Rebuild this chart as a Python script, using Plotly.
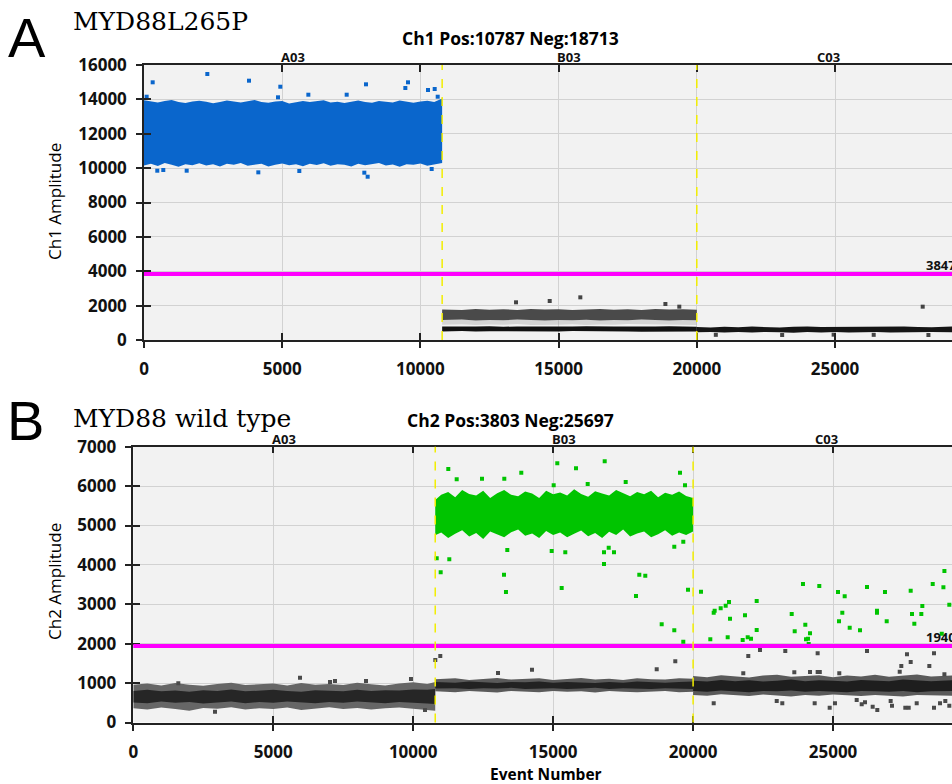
import plotly.graph_objects as go

W, H = 952, 784

# ---------------- data ----------------
WELLS = ["A03", "B03", "C03"]
WELL_EDGES = [0, 10787, 20000, 29500]
X_TICKS = [0, 5000, 10000, 15000, 20000, 25000]
A_Y_TICKS = [0, 2000, 4000, 6000, 8000, 10000, 12000, 14000, 16000]
B_Y_TICKS = [0, 1000, 2000, 3000, 4000, 5000, 6000, 7000]
A_X_RANGE = [0, 29233]
B_X_RANGE = [0, 29250]
A_Y_RANGE = [0, 16000]
B_Y_RANGE = [0, 7000]
A_THRESHOLD = 3847
B_THRESHOLD = 1940
A_TITLE = "Ch1 Pos:10787 Neg:18713"
B_TITLE = "Ch2 Pos:3803 Neg:25697"
A_LABEL = "MYD88L265P"
B_LABEL = "MYD88 wild type"

# Panel A dense clusters (band edges)
a_a03_x = [0, 250, 500, 750, 1000, 1250, 1500, 1750, 2000, 2250, 2500, 2750, 3000, 3250, 3500,
           3750, 4000, 4250, 4500, 4750, 5000, 5250, 5500, 5750, 6000, 6250, 6500, 6750, 7000,
           7250, 7500, 7750, 8000, 8250, 8500, 8750, 9000, 9250, 9500, 9750, 10000, 10250, 10500, 10787]
a_a03_hi = [13950, 13880, 13820, 13900, 13960, 13850, 13790, 13880, 13920, 13860, 13780, 13850,
            13930, 13870, 13820, 13890, 13960, 13840, 13800, 13870, 13910, 13760, 13850, 13900,
            13840, 13880, 13950, 13820, 13860, 13790, 13880, 13930, 13850, 13810, 13900, 13870,
            13820, 13940, 13860, 13800, 13880, 13920, 13850, 14050]
a_a03_lo = [10150, 10250, 10120, 10300, 10200, 10080, 10230, 10170, 10280, 10150, 10220, 10100,
            10260, 10190, 10300, 10140, 10210, 10250, 10090, 10200, 10270, 10160, 10230, 10110,
            10250, 10180, 10290, 10140, 10220, 10200, 10100, 10260, 10170, 10240, 10300, 10150,
            10210, 10080, 10230, 10190, 10270, 10140, 10220, 10300]

a_b03_x = [10787, 11500, 12000, 12500, 13000, 13500, 14000, 14500, 15000, 15500, 16000, 16500,
           17000, 17500, 18000, 18500, 19000, 19500, 20000]
a_b03_gray_hi = [1780, 1740, 1800, 1760, 1790, 1750, 1810, 1770, 1790, 1740, 1780, 1800,
                 1760, 1790, 1750, 1800, 1770, 1790, 1760]
a_b03_gray_lo = [1160, 1190, 1140, 1170, 1150, 1190, 1160, 1130, 1170, 1150, 1180, 1140,
                 1170, 1150, 1190, 1160, 1140, 1170, 1150]
a_b03_faint_hi = [1160, 1190, 1140, 1170, 1150, 1190, 1160, 1130, 1170, 1150, 1180, 1140,
                  1170, 1150, 1190, 1160, 1140, 1170, 1150]
a_b03_faint_lo = [880, 920, 870, 900, 880, 930, 870, 900, 890, 920, 870, 900,
                  880, 930, 890, 870, 900, 880, 870]
a_b03_dark_hi = [790, 770, 780, 800, 770, 790, 780, 760, 790, 780, 800, 770,
                 780, 790, 770, 780, 800, 780, 770]
a_b03_dark_lo = [500, 520, 490, 510, 500, 480, 510, 500, 490, 520, 500, 490,
                 510, 500, 480, 510, 500, 490, 500]

a_c03_x = [20000, 20500, 21000, 21500, 22000, 22500, 23000, 23500, 24000, 24500, 25000, 25500,
           26000, 26500, 27000, 27500, 28000, 28500, 29233]
a_c03_hi = [760, 730, 770, 740, 780, 750, 730, 770, 790, 750, 760, 740,
            780, 750, 770, 790, 760, 740, 780]
a_c03_lo = [450, 470, 430, 460, 440, 470, 450, 420, 460, 440, 470, 430,
            450, 460, 430, 450, 440, 460, 450]

# Panel A individual droplets
a_pos_x = [96, 314, 2291, 3799, 4932, 4848, 5946, 7333, 8032, 9455, 9551, 10275, 10517, 10626,
           481, 698, 1544, 4136, 5619, 7971, 8092, 10408]
a_pos_y = [14155, 14993, 15476, 15087, 14737, 14120, 14272, 14272, 14876, 14661, 14993, 14545, 14603, 14155,
           9850, 9890, 9850, 9755, 9832, 9735, 9500, 9949]
a_neg_x = [13460, 14678, 15786, 18864, 19367, 28173, 20688, 23088, 24950, 26400, 28380]
a_neg_y = [2193, 2269, 2482, 2094, 1939, 1939, 300, 290, 310, 300, 290]

# Panel B dense clusters
b_a03_x = [0, 500, 1000, 1500, 2000, 2500, 3000, 3500, 4000, 4500, 5000, 5500, 6000, 6500,
           7000, 7500, 8000, 8500, 9000, 9500, 10000, 10500, 10787]
b_a03_hi = [960, 990, 940, 1000, 960, 930, 980, 1010, 950, 970, 990, 940, 1000, 960, 980,
            950, 1010, 970, 940, 990, 1020, 980, 1030]
b_a03_lo = [360, 330, 380, 340, 300, 370, 350, 390, 330, 360, 340, 380, 320, 360, 390,
            340, 370, 330, 360, 380, 340, 320, 300]
b_a03_core_hi = [800, 830, 790, 810, 780, 820, 800, 840, 790, 810, 830, 800, 780, 820, 810,
                 790, 830, 800, 820, 810, 840, 830, 850]
b_a03_core_lo = [510, 490, 530, 500, 520, 480, 510, 530, 490, 520, 500, 530, 510, 490, 520,
                 500, 530, 510, 490, 520, 500, 480, 470]

b_b03_x = [10787, 11500, 12000, 12500, 13000, 13500, 14000, 14500, 15000, 15500, 16000, 16500,
           17000, 17500, 18000, 18500, 19000, 19500, 20000]
b_b03_hi = [1100, 1120, 1080, 1110, 1130, 1090, 1110, 1120, 1080, 1100, 1130, 1090,
            1110, 1080, 1120, 1100, 1090, 1120, 1110]
b_b03_lo = [790, 770, 800, 780, 760, 800, 790, 770, 800, 780, 790, 760,
            800, 780, 770, 790, 800, 770, 780]
b_b03_core_hi = [1030, 1010, 1040, 1020, 1000, 1030, 1020, 1040, 1010, 1030, 1020, 1000,
                 1030, 1010, 1040, 1020, 1010, 1030, 1040]
b_b03_core_lo = [860, 870, 850, 870, 860, 880, 850, 860, 870, 850, 860, 880,
                 850, 870, 860, 850, 870, 860, 850]
b_b03_pos_x = [10787, 11000, 11250, 11500, 11750, 12000, 12250, 12500, 12750, 13000, 13250, 13500,
               13750, 14000, 14250, 14500, 14750, 15000, 15250, 15500, 15750, 16000, 16250, 16500,
               16750, 17000, 17250, 17500, 17750, 18000, 18250, 18500, 18750, 19000, 19250, 19500,
               19750, 20000]
b_b03_pos_hi = [5650, 5780, 5850, 5720, 5900, 5800, 5760, 5880, 5700, 5820, 5900, 5780, 5740,
                5860, 5810, 5700, 5880, 5790, 5840, 5760, 5920, 5800, 5730, 5870, 5810, 5760,
                5900, 5820, 5740, 5850, 5790, 5880, 5720, 5830, 5780, 5860, 5750, 5700]
b_b03_pos_lo = [4750, 4820, 4680, 4790, 4880, 4720, 4810, 4660, 4850, 4770, 4700, 4830, 4900,
                4740, 4800, 4680, 4860, 4760, 4820, 4700, 4790, 4870, 4730, 4810, 4680, 4840,
                4760, 4900, 4720, 4800, 4850, 4700, 4780, 4880, 4740, 4820, 4760, 4850]

b_c03_x = [20000, 20500, 21000, 21500, 22000, 22500, 23000, 23500, 24000, 24500, 25000, 25500,
           26000, 26500, 27000, 27500, 28000, 28500, 29250]
b_c03_hi = [1180, 1150, 1200, 1170, 1140, 1190, 1210, 1160, 1180, 1200, 1150, 1190,
            1170, 1210, 1160, 1190, 1220, 1170, 1190]
b_c03_lo = [700, 680, 720, 690, 670, 710, 690, 660, 700, 680, 710, 690,
            670, 700, 680, 660, 700, 690, 680]
b_c03_core_hi = [1060, 1040, 1080, 1050, 1070, 1040, 1060, 1090, 1050, 1070, 1060, 1040,
                 1080, 1060, 1050, 1090, 1070, 1050, 1070]
b_c03_core_lo = [800, 780, 810, 790, 770, 800, 790, 810, 780, 800, 790, 770,
                 800, 790, 780, 800, 770, 790, 800]

# Panel B individual droplets
b_pos_x = [11254, 11554, 12458, 13255, 13862, 15148, 15817, 16842, 17592, 19532, 19711, 15019, 16234,
           10840, 11290, 10982, 13244, 13315, 15305, 16817, 16817, 16985, 17174, 18078, 18292, 17960,
           19818, 15434, 14948, 13362, 19328, 19650, 18878, 19328, 19650,
           20282, 20615, 20736, 20771, 20986, 21165, 21283, 21319, 21236, 21772, 21854, 21951, 22069,
           22272, 22272, 23523, 23630, 23926, 24009, 24177, 24034, 24105, 24130, 24509, 25177, 25416,
           25331, 25213, 25595, 25963, 26213, 26570, 26570, 26856, 26917, 27774, 27821, 27904, 28154,
           28190, 28561, 28943, 28979, 28884, 29154]
b_pos_y = [6434, 6172, 6188, 6188, 6340, 6578, 6451, 6629, 6104, 6340, 6020, 6020, 6053,
           4167, 4142, 3812, 3751, 3312, 3414, 4023, 4320, 4437, 4320, 3751, 3726, 3211,
           3371, 4320, 4353, 4378, 4462, 4589, 2492, 2340, 2051,
           3320, 2112, 2787, 2838, 2898, 2965, 3058, 2635, 2162, 2094, 2721, 2162, 2127,
           3084, 2348, 2754, 2315, 3515, 2482, 2264, 2112, 2127, 1992, 3464, 3312, 3203,
           2787, 2569, 2406, 2340, 3439, 2838, 2787, 3312, 2569, 3345, 2754, 2508, 2754,
           2957, 3515, 3431, 3845, 2254, 2990]
b_neg_x = [1608, 5956, 7028, 7206, 8314, 9921, 2919, 10422,
           10790, 10968, 13030, 14244, 18700, 19364,
           21972, 22390, 23294, 24450, 26213, 27642, 28607, 27774, 27439, 28440, 27382, 21793, 23616,
           24177, 24450, 24527, 25223, 28979,
           20736, 22988, 23187, 24344, 24880, 25069, 25845, 26024, 26142, 26416, 26581, 27059, 27106,
           27582, 27703, 27989, 28607, 28822, 29011, 29154]
b_neg_y = [995, 1137, 1028, 1053, 1053, 1104, 274, 317,
           1586, 1688, 1256, 1340, 1350, 1553,
           1688, 1840, 1815, 1756, 1815, 1731, 1756, 1536, 1434, 1434, 1289, 1249, 1274,
           1282, 1282, 1282, 1249, 1223,
           487, 546, 487, 487, 376, 487, 571, 462, 513, 401, 317, 546, 426,
           376, 376, 487, 376, 487, 546, 426]

# ---------------- styling ----------------
BLUE = "#0a66cc"
GREEN = "#00c400"
TICK_FONT = dict(family="Open Sans", size=17, color="#111111", weight="bold")
GRID = "#d2d2d2"
BG = "#f2f2f2"
AXC = "#222222"

fig = go.Figure()


def band(x, lo, hi, color, xa, ya, opacity=1.0):
    fig.add_trace(go.Scatter(
        x=list(x) + list(x)[::-1], y=list(hi) + list(lo)[::-1],
        fill="toself", fillcolor=color, mode="lines",
        line=dict(width=0, color=color), opacity=opacity,
        xaxis=xa, yaxis=ya, showlegend=False, hoverinfo="skip"))


def dots(x, y, color, xa, ya, size=4):
    fig.add_trace(go.Scatter(
        x=x, y=y, mode="markers",
        marker=dict(symbol="square", size=size, color=color, line=dict(width=0)),
        xaxis=xa, yaxis=ya, showlegend=False, hoverinfo="skip"))


# Panel A
band(a_a03_x, a_a03_lo, a_a03_hi, BLUE, "x", "y")
band(a_b03_x, a_b03_faint_lo, a_b03_faint_hi, "#909090", "x", "y", 0.3)
band(a_b03_x, a_b03_gray_lo, a_b03_gray_hi, "#4a4a4a", "x", "y")
band(a_b03_x, a_b03_dark_lo, a_b03_dark_hi, "#111111", "x", "y")
band(a_c03_x, a_c03_lo, a_c03_hi, "#151515", "x", "y")
dots(a_pos_x, a_pos_y, BLUE, "x", "y")
dots(a_neg_x, a_neg_y, "#444444", "x", "y")

# Panel B
band(b_a03_x, b_a03_lo, b_a03_hi, "#666666", "x2", "y2")
band(b_a03_x, b_a03_core_lo, b_a03_core_hi, "#262626", "x2", "y2")
band(b_b03_x, b_b03_lo, b_b03_hi, "#5a5a5a", "x2", "y2")
band(b_b03_x, b_b03_core_lo, b_b03_core_hi, "#222222", "x2", "y2")
band(b_b03_pos_x, b_b03_pos_lo, b_b03_pos_hi, GREEN, "x2", "y2")
band(b_c03_x, b_c03_lo, b_c03_hi, "#5a5a5a", "x2", "y2")
band(b_c03_x, b_c03_core_lo, b_c03_core_hi, "#1e1e1e", "x2", "y2")
dots(b_pos_x, b_pos_y, GREEN, "x2", "y2")
dots(b_neg_x, b_neg_y, "#4a4a4a", "x2", "y2")

# empty traces to register the overlay (outside-tick) axes
for xa, ya in [("x3", "y"), ("x", "y3"), ("x4", "y2"), ("x2", "y4")]:
    fig.add_trace(go.Scatter(x=[], y=[], xaxis=xa, yaxis=ya, showlegend=False, hoverinfo="skip"))


def main_x(domain, rng, anchor):
    return dict(domain=domain, range=rng, anchor=anchor, tickvals=X_TICKS, tickformat="d",
                ticks="inside", ticklen=7, tickwidth=1.5, tickcolor=AXC, mirror="ticks",
                showline=True, linecolor=AXC, linewidth=1.5, showgrid=True, gridcolor=GRID,
                gridwidth=1, zeroline=False, tickfont=TICK_FONT, ticklabelstandoff=13,
                automargin=False, fixedrange=True)


def over_x(over, rng, anchor):
    return dict(overlaying=over, range=rng, anchor=anchor, tickvals=X_TICKS, side="bottom",
                ticks="outside", ticklen=7, tickwidth=1.5, tickcolor=AXC, showticklabels=False,
                showgrid=False, showline=False, zeroline=False, automargin=False)


def main_y(domain, rng, anchor, tv):
    return dict(domain=domain, range=rng, anchor=anchor, tickvals=tv, tickformat="d",
                ticks="inside", ticklen=7, tickwidth=1.5, tickcolor=AXC,
                showline=True, linecolor=AXC, linewidth=1.5, showgrid=True, gridcolor=GRID,
                gridwidth=1, zeroline=False, tickfont=TICK_FONT, ticklabelstandoff=12,
                automargin=False, fixedrange=True)


def over_y(over, rng, anchor, tv):
    return dict(overlaying=over, range=rng, anchor=anchor, tickvals=tv, side="left",
                ticks="outside", ticklen=7, tickwidth=1.5, tickcolor=AXC, showticklabels=False,
                showgrid=False, showline=False, zeroline=False, automargin=False)


A_XDOM = [144 / W, 1]
A_YDOM = [1 - 340 / H, 1 - 65 / H]
B_XDOM = [133.3 / W, 1]
B_YDOM = [1 - 722.5 / H, 1 - 446.7 / H]

fig.update_layout(
    width=W, height=H, margin=dict(l=0, r=0, t=0, b=0),
    paper_bgcolor="white", plot_bgcolor=BG,
    xaxis=main_x(A_XDOM, A_X_RANGE, "y"),
    yaxis=main_y(A_YDOM, A_Y_RANGE, "x", A_Y_TICKS),
    xaxis2=main_x(B_XDOM, B_X_RANGE, "y2"),
    yaxis2=main_y(B_YDOM, B_Y_RANGE, "x2", B_Y_TICKS),
    xaxis3=over_x("x", A_X_RANGE, "y"),
    yaxis3=over_y("y", A_Y_RANGE, "x", A_Y_TICKS),
    xaxis4=over_x("x2", B_X_RANGE, "y2"),
    yaxis4=over_y("y2", B_Y_RANGE, "x2", B_Y_TICKS),
    showlegend=False,
)

shapes = []
for xr, yr, thr in [("x", "y", A_THRESHOLD), ("x2", "y2", B_THRESHOLD)]:
    shapes.append(dict(type="line", xref=xr + " domain", yref=yr, x0=0, x1=1, y0=thr, y1=thr,
                       line=dict(color="#ff00ff", width=4), layer="above"))
    for edge in WELL_EDGES[1:-1]:
        shapes.append(dict(type="line", xref=xr, yref=yr + " domain", x0=edge, x1=edge, y0=0, y1=1,
                           line=dict(color="#f2ee00", width=1.5, dash="dash"), layer="above"))
fig.update_layout(shapes=shapes)

ann = []


def txt(x, y, text, font, xanchor="center", yanchor="middle", xref="paper", yref="paper", textangle=0):
    ann.append(dict(x=x, y=y, xref=xref, yref=yref, text=text, showarrow=False, font=font,
                    xanchor=xanchor, yanchor=yanchor, textangle=textangle, borderpad=0))


def py(p):
    return 1 - p / H


# panel letters and gene labels
txt(27 / W, py(38), "A", dict(family="Liberation Sans", size=56, color="black"))
txt(25 / W, py(420), "B", dict(family="Liberation Sans", size=56, color="black"))
txt(72 / W, py(21), A_LABEL, dict(family="DejaVu Serif", size=25, color="black"), xanchor="left")
txt(72 / W, py(418), B_LABEL, dict(family="DejaVu Serif", size=25, color="black"), xanchor="left")

# chart titles
TITLE_FONT = dict(family="Open Sans", size=17.5, color="black", weight="bold")
txt(510 / W, py(38), A_TITLE, TITLE_FONT)
txt(510 / W, py(420), B_TITLE, TITLE_FONT)

# well labels
WELL_FONT = dict(family="Open Sans", size=13, color="#111111", weight="bold")
for i, w in enumerate(WELLS):
    c = (WELL_EDGES[i] + WELL_EDGES[i + 1]) / 2
    txt(c, py(57), w, WELL_FONT, xref="x")
    txt(c, py(439), w, WELL_FONT, xref="x2")

# axis titles
AX_FONT = dict(family="Open Sans", size=17, color="black")
txt(54 / W, py(202), "Ch1 Amplitude", AX_FONT, textangle=-90)
txt(54 / W, py(582), "Ch2 Amplitude", AX_FONT, textangle=-90)
txt(546 / W, py(774), "Event Number", dict(family="Open Sans", size=15.5, color="black", weight="bold"))

# threshold values
THR_FONT = dict(family="Open Sans", size=13, color="#111111", weight="bold")
ann.append(dict(x=28220, y=A_THRESHOLD, xref="x", yref="y", text=str(A_THRESHOLD), showarrow=False,
                font=THR_FONT, xanchor="left", yanchor="bottom", yshift=-2))
ann.append(dict(x=28250, y=B_THRESHOLD, xref="x2", yref="y2", text=str(B_THRESHOLD), showarrow=False,
                font=THR_FONT, xanchor="left", yanchor="bottom", yshift=-2))

fig.update_layout(annotations=ann)

fig.write_html("out.html", config={"displayModeBar": False},
               post_script="document.body.style.margin='0';document.body.style.overflow='hidden';")
